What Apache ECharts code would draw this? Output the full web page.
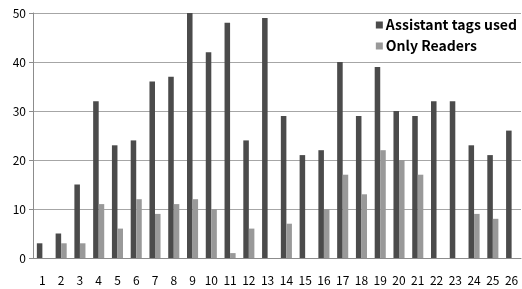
<!DOCTYPE html>
<html>
<head>
<meta charset="utf-8">
<script src="https://cdn.jsdelivr.net/npm/echarts@6/dist/echarts.min.js"></script>
<style>
  html, body { margin: 0; padding: 0; background: #fff; }
  #chart { width: 522px; height: 289px; }
</style>
</head>
<body>
<div id="chart"></div>
<script>
// categories and values
const categories = ['1','2','3','4','5','6','7','8','9','10','11','12','13','14','15','16','17','18','19','20','21','22','23','24','25','26']
const assistantTags = [3, 5, 15, 32, 23, 24, 36, 37, 50, 42, 48, 24, 49, 29, 21, 22, 40, 29, 39, 30, 29, 32, 32, 23, 21, 26]
const onlyReaders = [0, 3, 3, 11, 6, 12, 9, 11, 12, 10, 1, 6, 0, 7, 0, 10, 17, 13, 22, 20, 17, 0, 0, 9, 8, 0]
const yTicks = [0, 10, 20, 30, 40, 50]

const font = "'Noto Sans CJK KR', 'Noto Sans', sans-serif"

const chart = echarts.init(document.getElementById('chart'), null, { renderer: 'canvas' })

const option = {
  backgroundColor: '#fff',
  animation: false,
  grid: { left: 33, right: 1, top: 13, bottom: 31, containLabel: false },
  legend: {
    orient: 'vertical',
    right: 3,
    top: 16,
    icon: 'rect',
    itemWidth: 7,
    itemHeight: 7,
    itemGap: 7,
    padding: [2, 2, 2, 2],
    backgroundColor: '#fff',
    textStyle: { fontFamily: font, fontSize: 14, fontWeight: 'bold', color: '#000', padding: [0, 0, 0, -2] },
    data: ['Assistant tags used', 'Only Readers']
  },
  xAxis: {
    type: 'category',
    data: categories,
    axisLine: { show: true, lineStyle: { color: '#8c8c8c', width: 1 } },
    axisTick: { show: false },
    axisLabel: { color: '#000', fontFamily: font, fontSize: 12, margin: 16, interval: 0 }
  },
  yAxis: {
    type: 'value',
    min: yTicks[0],
    max: yTicks[yTicks.length - 1],
    interval: 10,
    axisLine: { show: true, lineStyle: { color: '#8c8c8c', width: 1 } },
    axisTick: { show: true, length: 4, lineStyle: { color: '#8c8c8c' } },
    axisLabel: { color: '#000', fontFamily: font, fontSize: 12, margin: 7 },
    splitLine: { show: true, lineStyle: { color: '#a6a6a6', width: 1 } }
  },
  series: [
    {
      name: 'Assistant tags used',
      type: 'bar',
      data: assistantTags,
      barGap: '0%',
      barCategoryGap: '41%',
      itemStyle: { color: '#4b4b4b' }
    },
    {
      name: 'Only Readers',
      type: 'bar',
      data: onlyReaders,
      itemStyle: { color: '#999999' }
    }
  ]
}

chart.setOption(option)
</script>
</body>
</html>
